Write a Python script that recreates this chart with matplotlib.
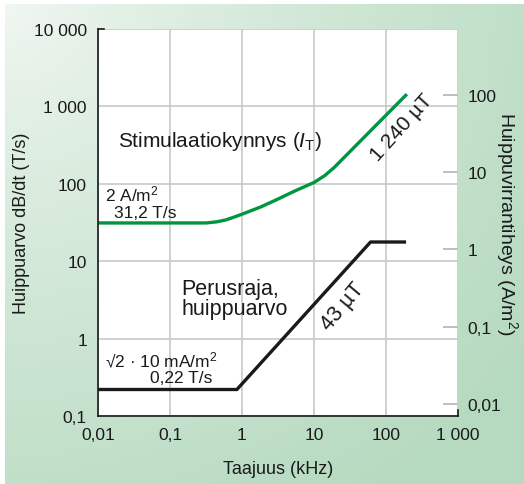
import numpy as np
import matplotlib
matplotlib.use("Agg")
import matplotlib.pyplot as plt
from matplotlib.ticker import FixedLocator, FixedFormatter, NullLocator

plt.rcParams['font.family'] = ['Liberation Sans', 'DejaVu Sans']
plt.rcParams['mathtext.fontset'] = 'custom'
plt.rcParams['mathtext.rm'] = 'Liberation Sans'
plt.rcParams['mathtext.it'] = 'Liberation Sans:italic'

# ---- data ----
freq_stim = [0.01, 0.32, 0.45, 0.6, 0.8, 1, 1.8, 3.1, 5.3, 10, 14, 19, 195]
val_stim = [31.2, 31.2, 32.3, 34.2, 37.5, 40.5, 50, 63, 80, 104, 127, 162, 1440]
freq_base = [0.01, 0.85, 61, 190]
val_base = [0.22, 0.22, 17.7, 17.7]
ratio = 14.2  # left-axis units per right-axis unit, as drawn

x_ticks = [0.01, 0.1, 1, 10, 100, 1000]
x_labels = ["0,01", "0,1", "1", "10", "100", "1 000"]
y_ticks = [0.1, 1, 10, 100, 1000, 10000]
y_labels = ["0,1", "1", "10", "100", "1 000", "10 000"]
r_ticks = [0.01, 0.1, 1, 10, 100]
r_labels = ["0,01", "0,1", "1", "10", "100"]

W, H = 524, 485
fig = plt.figure(figsize=(W / 100, H / 100), dpi=100)

# background gradient
bg = fig.add_axes([0, 0, 1, 1])
yy, xx = np.mgrid[0:H, 0:W]
t = np.clip(np.sqrt((xx / W) ** 2 + (yy / H) ** 2) / 1.25, 0, 1) ** 0.8
c0 = np.array([0xf3, 0xf8, 0xf3]) / 255
c1 = np.array([0xb6, 0xda, 0xc0]) / 255
img = c0[None, None, :] * (1 - t[..., None]) + c1[None, None, :] * t[..., None]
img[:5, :, :] = 1
img[:, :5, :] = 1
bg.imshow(img, aspect='auto', extent=[0, 1, 0, 1], origin='upper')
bg.axis('off')

left, right = 98 / W, 458 / W
bottom, top = (H - 417) / H, (H - 30) / H
ax = fig.add_axes([left, bottom, right - left, top - bottom])
ax.set_facecolor('white')
ax.set_xscale('log')
ax.set_yscale('log')
ax.set_xlim(0.01, 1000)
ax.set_ylim(0.1, 10000)

ax.xaxis.set_major_locator(FixedLocator(x_ticks))
ax.xaxis.set_major_formatter(FixedFormatter(x_labels))
ax.xaxis.set_minor_locator(NullLocator())
ax.yaxis.set_major_locator(FixedLocator(y_ticks))
ax.yaxis.set_major_formatter(FixedFormatter(y_labels))
ax.yaxis.set_minor_locator(NullLocator())
ax.tick_params(axis='both', length=0, labelsize=12.5, colors='#1a1a1a')
ax.tick_params(axis='x', pad=8)
ax.tick_params(axis='y', pad=8)

ax.grid(True, color='#c8c8c8', linewidth=1.2)
ax.set_axisbelow(True)

for s in ['left', 'bottom']:
    ax.spines[s].set_color('#1a1a1a')
    ax.spines[s].set_linewidth(1.2)
ax.spines['top'].set_color('#1a1a1a')
ax.spines['top'].set_linewidth(1.2)
ax.spines['top'].set_bounds(0.01, 0.01 * 10 ** (6 / 72))
ax.spines['right'].set_color('#1a1a1a')
ax.spines['right'].set_linewidth(1.2)
ax.spines['right'].set_bounds(0.1, 0.1 * 10 ** (6 / 77.4))

ax.plot(freq_stim, val_stim, color='#00963f', linewidth=2.4, solid_capstyle='butt',
        solid_joinstyle='round')
ax.plot(freq_base, val_base, color='#1a1a1a', linewidth=2.4, solid_capstyle='butt')

sec = ax.secondary_yaxis('right', functions=(lambda v: v / ratio, lambda v: v * ratio))
sec.yaxis.set_major_locator(FixedLocator(r_ticks))
sec.yaxis.set_major_formatter(FixedFormatter(r_labels))
sec.yaxis.set_minor_locator(NullLocator())
sec.tick_params(axis='y', direction='in', length=11, width=1.2, color='#b4b4b4',
                labelsize=12.5, labelcolor='#1a1a1a', pad=7)
sec.spines['right'].set_visible(False)
sec.set_ylabel("Huippuvirrantiheys (A/m$^{2}$)", fontsize=14, rotation=270,
               labelpad=13, color='#1a1a1a')

ax.set_ylabel("Huippuarvo dB/dt (T/s)", fontsize=13, labelpad=3, color='#1a1a1a')
ax.set_xlabel("Taajuus (kHz)", fontsize=13, labelpad=13, color='#1a1a1a')

tk = dict(transform=ax.transAxes, color='#1a1a1a')
ax.text(0.0556, 0.698, r"Stimulaatiokynnys ($\mathit{I}_{\mathrm{T}}$)", fontsize=15,
        va='baseline', ha='left', **tk)
ax.text(0.019, 0.556, "2 A/m$^{2}$", fontsize=12.5, va='baseline', ha='left', **tk)
ax.text(0.044, 0.514, "31,2 T/s", fontsize=12.5, va='baseline', ha='left', **tk)
ax.text(0.019, 0.129, "√2 · 10 mA/m$^{2}$", fontsize=12.5, va='baseline', ha='left', **tk)
ax.text(0.144, 0.088, "0,22 T/s", fontsize=12.5, va='baseline', ha='left', **tk)
ax.text(0.231, 0.315, "Perusraja,", fontsize=15.5, va='baseline', ha='left', **tk)
ax.text(0.231, 0.264, "huippuarvo", fontsize=15.5, va='baseline', ha='left', **tk)
ax.text(0.844, 0.747, "1 240 µT", fontsize=15, rotation=48, va='center', ha='center',
        rotation_mode='anchor', **tk)
ax.text(0.681, 0.284, "43 µT", fontsize=15.5, rotation=50, va='center', ha='center',
        rotation_mode='anchor', **tk)

fig.savefig("out.png", dpi=100)
